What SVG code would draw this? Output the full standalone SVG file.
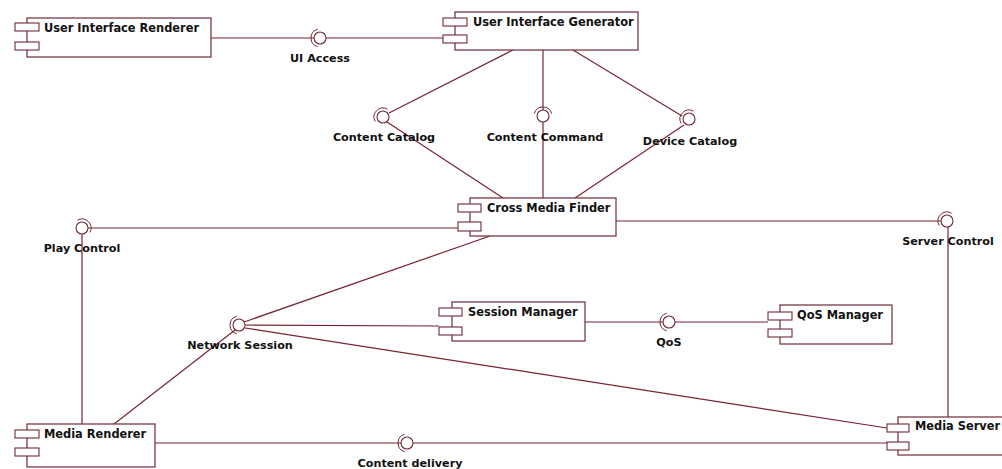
<svg xmlns="http://www.w3.org/2000/svg" width="1002" height="469" viewBox="0 0 1002 469">
  <style>
    .box { fill: #ffffff; stroke: #6e2a35; stroke-width: 1.2; }
    .port { fill: #ffffff; stroke: #6e2a35; stroke-width: 1.1; }
    .wire { fill: none; stroke: #7a2332; stroke-width: 1.2; }
    .ball { fill: #ffffff; stroke: #6e2a35; stroke-width: 1.1; }
    .socket { fill: none; stroke: #6e2a35; stroke-width: 1; }
    .name { font-family: "DejaVu Sans", Verdana, sans-serif; font-weight: bold; font-size: 11.4px; fill: #111111; }
    .lbl { font-family: "DejaVu Sans", Verdana, sans-serif; font-weight: bold; font-size: 11.2px; fill: #111111; text-anchor: middle; }
  </style>
  <rect width="1002" height="469" fill="#ffffff"/>

  <!-- connectors -->
  <g id="connectors">
    <line class="wire" x1="211" y1="38" x2="314" y2="38"/>
    <line class="wire" x1="326" y1="38" x2="443" y2="38"/>
    <line class="wire" x1="513" y1="50" x2="389" y2="113"/>
    <line class="wire" x1="543" y1="50" x2="543" y2="110"/>
    <line class="wire" x1="573" y1="50" x2="682" y2="116"/>
    <line class="wire" x1="387" y1="122" x2="503" y2="198"/>
    <line class="wire" x1="543" y1="122" x2="543" y2="198"/>
    <line class="wire" x1="684" y1="125" x2="575" y2="198"/>
    <line class="wire" x1="88" y1="228" x2="458" y2="228"/>
    <line class="wire" x1="82" y1="234" x2="82" y2="424"/>
    <line class="wire" x1="616" y1="221" x2="941" y2="221"/>
    <line class="wire" x1="948" y1="227" x2="948" y2="417"/>
    <line class="wire" x1="244" y1="322" x2="490" y2="236"/>
    <line class="wire" x1="245" y1="325" x2="439" y2="326"/>
    <line class="wire" x1="245" y1="328" x2="887" y2="428"/>
    <line class="wire" x1="235" y1="330" x2="114" y2="424"/>
    <line class="wire" x1="585" y1="322" x2="663" y2="322"/>
    <line class="wire" x1="675" y1="322" x2="768" y2="322"/>
    <line class="wire" x1="155" y1="443" x2="401" y2="443"/>
    <line class="wire" x1="413" y1="443" x2="887" y2="443"/>
  </g>

  <!-- provided / required interface symbols -->
  <g id="if-ui-access">
    <circle class="ball" cx="320" cy="38" r="6"/>
    <path class="socket" d="M317.7 29.3 A9 9 0 0 0 317.7 46.7"/>
    <text class="lbl" x="320" y="62">UI Access</text>
  </g>
  <g id="if-content-catalog">
    <circle class="ball" cx="383" cy="117" r="6"/>
    <path class="socket" d="M375.2 121.5 A9 9 0 0 1 387.5 109.2"/>
    <text class="lbl" x="384" y="141">Content Catalog</text>
  </g>
  <g id="if-content-command">
    <circle class="ball" cx="543" cy="116" r="6"/>
    <path class="socket" d="M534.3 113.7 A9 9 0 0 1 551.7 113.7"/>
    <text class="lbl" x="545" y="141">Content Command</text>
  </g>
  <g id="if-device-catalog">
    <circle class="ball" cx="689" cy="119" r="6"/>
    <path class="socket" d="M681.2 123.5 A9 9 0 0 1 693.5 111.2"/>
    <text class="lbl" x="690" y="145">Device Catalog</text>
  </g>
  <g id="if-play-control">
    <circle class="ball" cx="82" cy="228" r="6"/>
    <path class="socket" d="M77.5 220.2 A9 9 0 0 1 89.8 232.5"/>
    <text class="lbl" x="82" y="252">Play Control</text>
  </g>
  <g id="if-server-control">
    <circle class="ball" cx="947" cy="221" r="6"/>
    <path class="socket" d="M939.2 225.5 A9 9 0 0 1 951.5 213.2"/>
    <text class="lbl" x="948" y="245">Server Control</text>
  </g>
  <g id="if-network-session">
    <circle class="ball" cx="239" cy="325" r="6"/>
    <path class="socket" d="M236.7 316.3 A9 9 0 0 0 236.7 333.7"/>
    <text class="lbl" x="240" y="349">Network Session</text>
  </g>
  <g id="if-qos">
    <circle class="ball" cx="669" cy="322" r="6"/>
    <path class="socket" d="M666.7 313.3 A9 9 0 0 0 666.7 330.7"/>
    <text class="lbl" x="669" y="346">QoS</text>
  </g>
  <g id="if-content-delivery">
    <circle class="ball" cx="407" cy="443" r="6"/>
    <path class="socket" d="M404.7 434.3 A9 9 0 0 0 404.7 451.7"/>
    <text class="lbl" x="410" y="467">Content delivery</text>
  </g>

  <!-- components -->
  <g id="user-interface-renderer">
    <rect class="box" x="27" y="18" width="184" height="39"/>
    <rect class="port" x="15" y="23" width="24" height="8"/>
    <rect class="port" x="15" y="42" width="24" height="8"/>
    <text class="name" x="44" y="32">User Interface Renderer</text>
  </g>
  <g id="user-interface-generator">
    <rect class="box" x="455" y="12" width="183" height="38"/>
    <rect class="port" x="443" y="18" width="24" height="8"/>
    <rect class="port" x="443" y="35" width="24" height="8"/>
    <text class="name" x="473" y="26">User Interface Generator</text>
  </g>
  <g id="cross-media-finder">
    <rect class="box" x="470" y="198" width="146" height="38"/>
    <rect class="port" x="458" y="204" width="23" height="8"/>
    <rect class="port" x="458" y="222" width="23" height="9"/>
    <text class="name" x="487" y="212">Cross Media Finder</text>
  </g>
  <g id="session-manager">
    <rect class="box" x="452" y="302" width="133" height="39"/>
    <rect class="port" x="439" y="308" width="23" height="8"/>
    <rect class="port" x="439" y="327" width="23" height="8"/>
    <text class="name" x="468" y="316">Session Manager</text>
  </g>
  <g id="qos-manager">
    <rect class="box" x="780" y="305" width="112" height="39"/>
    <rect class="port" x="768" y="312" width="24" height="8"/>
    <rect class="port" x="768" y="329" width="24" height="8"/>
    <text class="name" x="797" y="319">QoS Manager</text>
  </g>
  <g id="media-renderer">
    <rect class="box" x="27" y="424" width="128" height="43"/>
    <rect class="port" x="15" y="430" width="24" height="8"/>
    <rect class="port" x="15" y="448" width="24" height="8"/>
    <text class="name" x="44" y="438">Media Renderer</text>
  </g>
  <g id="media-server">
    <rect class="box" x="898" y="417" width="112" height="38"/>
    <rect class="port" x="887" y="424" width="22" height="8"/>
    <rect class="port" x="887" y="442" width="22" height="8"/>
    <text class="name" x="915" y="430">Media Server</text>
  </g>
</svg>
